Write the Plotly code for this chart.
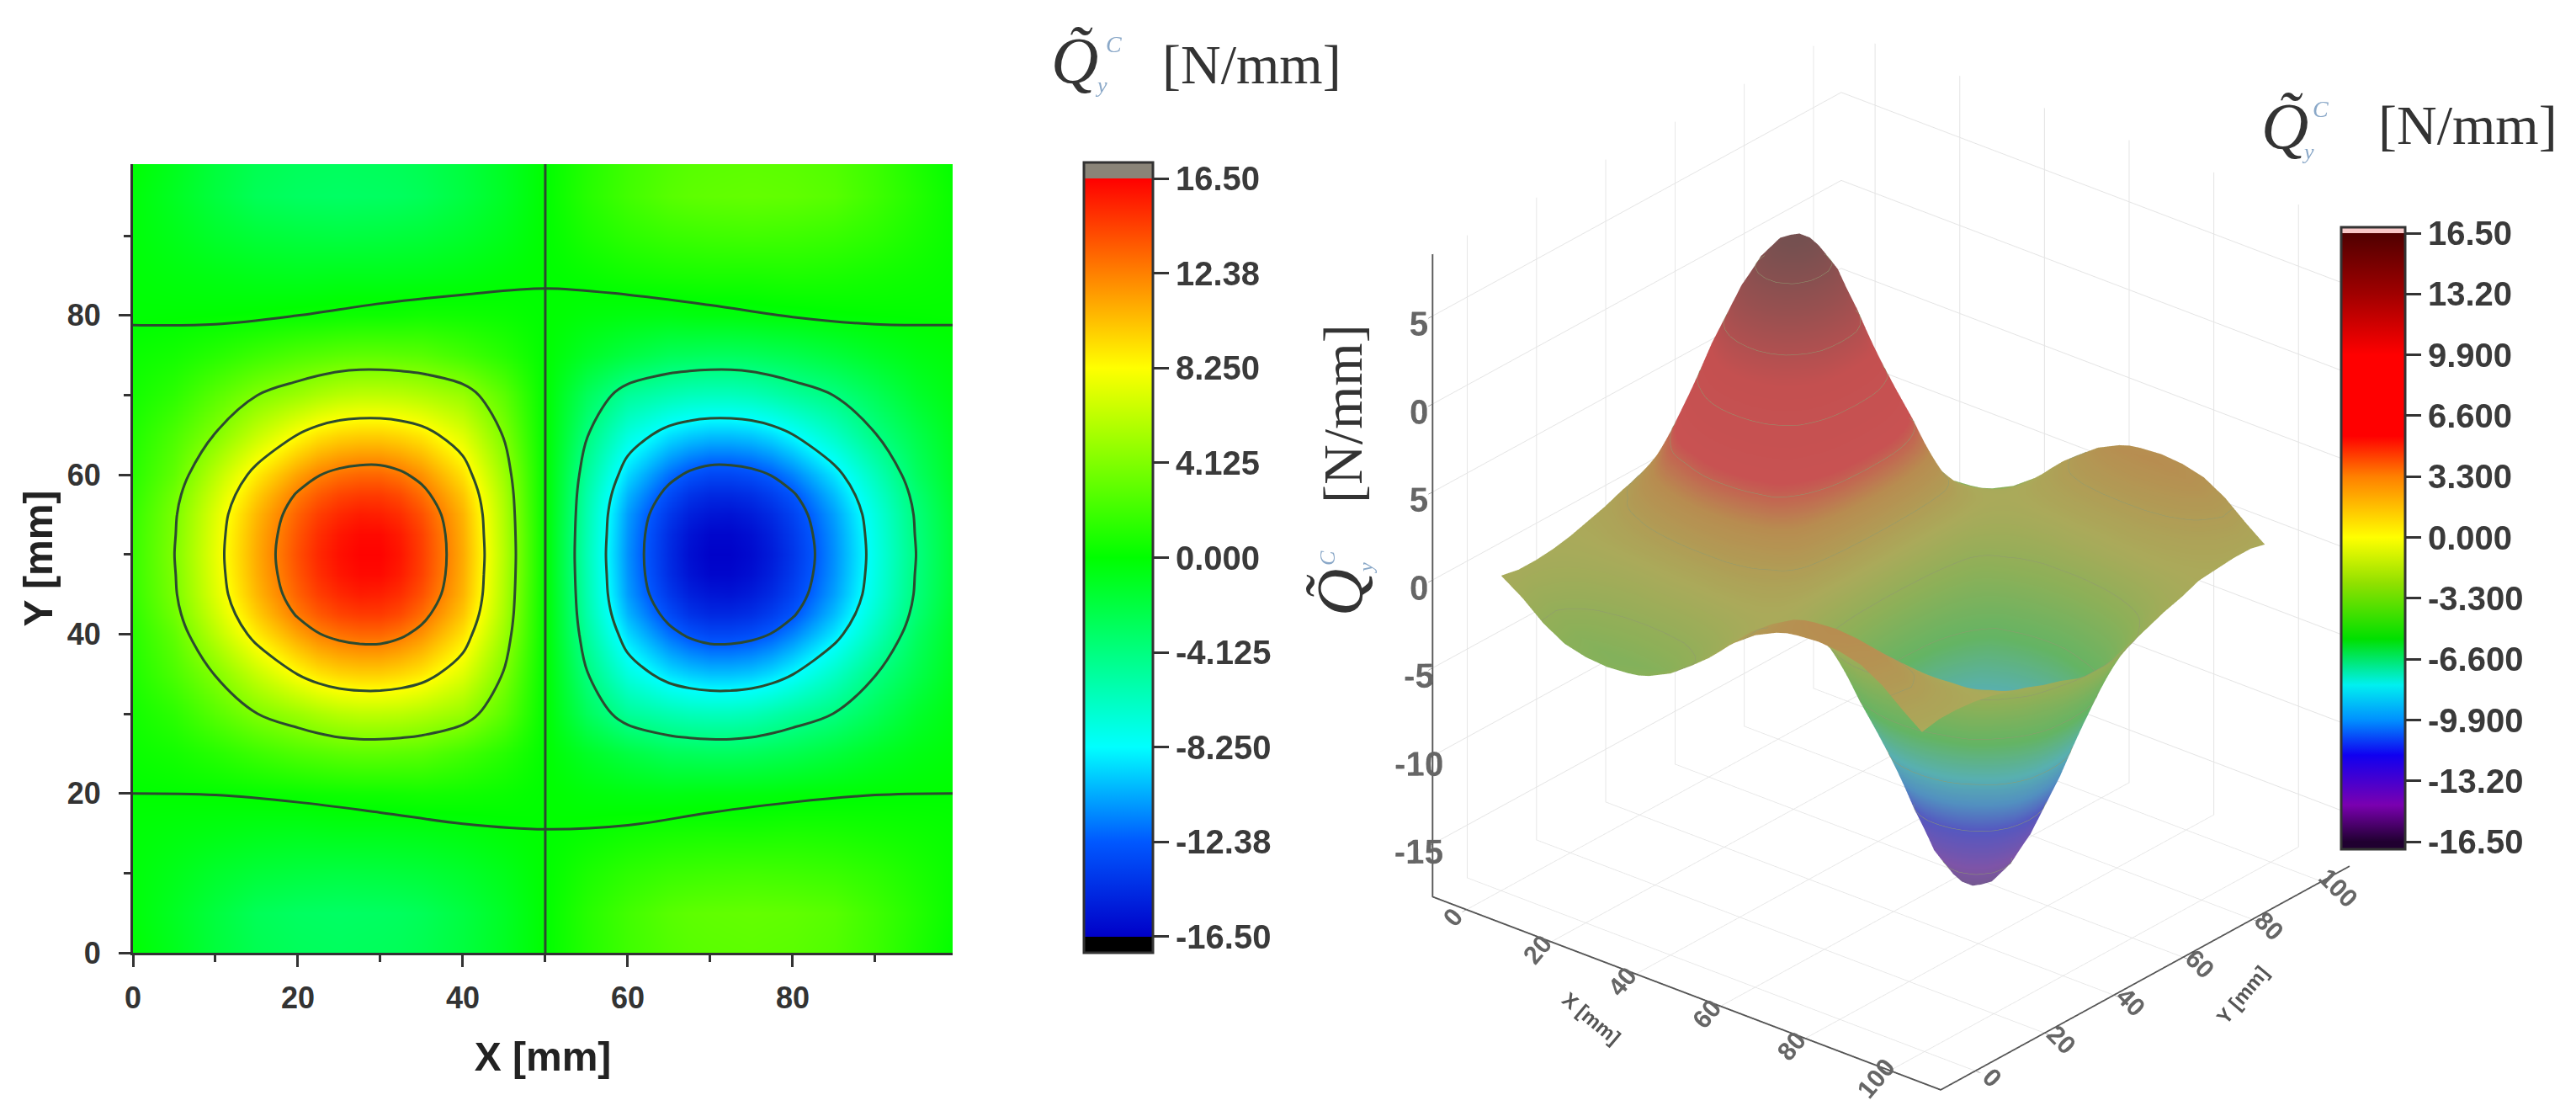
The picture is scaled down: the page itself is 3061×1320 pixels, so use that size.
import plotly.graph_objects as go

W, H = 3061, 1320
PAGE = 8  # the page adds this many pixels above and to the left of the figure

x_mm = [0, 5, 10, 15, 20, 22.5, 25, 27.5, 30, 32.5, 35, 40, 45, 48, 50, 52, 55, 60, 65, 67.5, 70, 72.5, 75, 77.5, 80, 85, 90, 95, 99.4]
y_mm = [0, 5, 10, 15, 20, 25, 30, 35, 40, 42.5, 45, 47.5, 50, 52.5, 55, 57.5, 60, 65, 70, 75, 80, 85, 90, 95, 99]

q_values = [
    [-0.1, -0.9, -1.9, -2.6, -2.9, -2.95, -3.0, -2.95, -2.9, -2.8, -2.6, -2.0, -1.1, -0.45, 0, 0.45, 1.1, 2.0, 2.6, 2.8, 2.9, 2.95, 3.0, 2.95, 2.9, 2.6, 1.9, 0.9, 0.1],
    [-0.3, -1.1, -2.0, -2.8, -3.1, -3.15, -3.2, -3.15, -3.1, -3.0, -2.8, -2.1, -1.2, -0.5, 0, 0.5, 1.2, 2.1, 2.8, 3.0, 3.1, 3.15, 3.2, 3.15, 3.1, 2.8, 2.0, 1.1, 0.3],
    [-0.3, -0.8, -1.4, -1.8, -2.0, -2.05, -2.1, -2.05, -2.0, -1.9, -1.8, -1.4, -0.8, -0.3, 0, 0.3, 0.8, 1.4, 1.8, 1.9, 2.0, 2.05, 2.1, 2.05, 2.0, 1.8, 1.4, 0.8, 0.3],
    [-0.2, -0.4, -0.6, -0.8, -0.9, -0.85, -0.8, -0.8, -0.8, -0.75, -0.7, -0.5, -0.2, -0.05, 0, 0.05, 0.2, 0.5, 0.7, 0.75, 0.8, 0.8, 0.8, 0.85, 0.9, 0.8, 0.6, 0.4, 0.2],
    [0.0, 0.05, 0.1, 0.2, 0.3, 0.4, 0.45, 0.5, 0.5, 0.55, 0.6, 0.5, 0.3, 0.1, 0, -0.1, -0.3, -0.5, -0.6, -0.55, -0.5, -0.5, -0.45, -0.4, -0.3, -0.2, -0.1, -0.05, 0.0],
    [0.3, 0.6, 1.2, 1.9, 2.5, 2.7, 2.9, 3.0, 3.0, 2.9, 2.8, 2.1, 1.2, 0.5, 0, -0.5, -1.2, -2.1, -2.8, -2.9, -3.0, -3.0, -2.9, -2.7, -2.5, -1.9, -1.2, -0.6, -0.3],
    [0.6, 1.4, 2.8, 4.1, 5.0, 5.5, 5.9, 6.1, 6.1, 6.0, 5.7, 4.9, 2.9, 1.2, 0, -1.2, -2.9, -4.9, -5.7, -6.0, -6.1, -6.1, -5.9, -5.5, -5.0, -4.1, -2.8, -1.4, -0.6],
    [1.0, 2.4, 4.2, 6.4, 8.3, 9.1, 9.6, 9.8, 9.8, 9.5, 9.0, 7.2, 4.0, 1.6, 0, -1.6, -4.0, -7.2, -9.0, -9.5, -9.8, -9.8, -9.6, -9.1, -8.3, -6.4, -4.2, -2.4, -1.0],
    [1.3, 3.1, 6.0, 8.9, 11.3, 12.3, 12.9, 13.2, 13.2, 12.7, 11.8, 9.2, 5.0, 2.0, 0, -2.0, -5.0, -9.2, -11.8, -12.7, -13.2, -13.2, -12.9, -12.3, -11.3, -8.9, -6.0, -3.1, -1.3],
    [1.5, 3.6, 6.7, 9.9, 12.6, 13.6, 14.3, 14.6, 14.6, 14.1, 13.0, 10.1, 5.4, 2.1, 0, -2.1, -5.4, -10.1, -13.0, -14.1, -14.6, -14.6, -14.3, -13.6, -12.6, -9.9, -6.7, -3.6, -1.5],
    [1.7, 3.9, 7.2, 10.6, 13.4, 14.5, 15.2, 15.6, 15.5, 15.0, 13.9, 10.7, 5.6, 2.2, 0, -2.2, -5.6, -10.7, -13.9, -15.0, -15.5, -15.6, -15.2, -14.5, -13.4, -10.6, -7.2, -3.9, -1.7],
    [1.8, 4.0, 7.4, 10.9, 13.8, 15.0, 15.8, 16.2, 16.2, 15.6, 14.4, 10.9, 5.7, 2.3, 0, -2.3, -5.7, -10.9, -14.4, -15.6, -16.2, -16.2, -15.8, -15.0, -13.8, -10.9, -7.4, -4.0, -1.8],
    [1.8, 4.1, 7.5, 11.0, 14.0, 15.2, 16.0, 16.4, 16.4, 15.8, 14.5, 11.0, 5.8, 2.3, 0, -2.3, -5.8, -11.0, -14.5, -15.8, -16.4, -16.4, -16.0, -15.2, -14.0, -11.0, -7.5, -4.1, -1.8],
    [1.8, 4.0, 7.4, 10.9, 13.8, 15.0, 15.8, 16.2, 16.2, 15.6, 14.4, 10.9, 5.7, 2.3, 0, -2.3, -5.7, -10.9, -14.4, -15.6, -16.2, -16.2, -15.8, -15.0, -13.8, -10.9, -7.4, -4.0, -1.8],
    [1.7, 3.9, 7.2, 10.6, 13.4, 14.5, 15.2, 15.6, 15.5, 15.0, 13.9, 10.7, 5.6, 2.2, 0, -2.2, -5.6, -10.7, -13.9, -15.0, -15.5, -15.6, -15.2, -14.5, -13.4, -10.6, -7.2, -3.9, -1.7],
    [1.5, 3.6, 6.7, 9.9, 12.6, 13.6, 14.3, 14.6, 14.6, 14.1, 13.0, 10.1, 5.4, 2.1, 0, -2.1, -5.4, -10.1, -13.0, -14.1, -14.6, -14.6, -14.3, -13.6, -12.6, -9.9, -6.7, -3.6, -1.5],
    [1.3, 3.1, 6.0, 8.9, 11.3, 12.3, 12.9, 13.2, 13.2, 12.7, 11.8, 9.2, 5.0, 2.0, 0, -2.0, -5.0, -9.2, -11.8, -12.7, -13.2, -13.2, -12.9, -12.3, -11.3, -8.9, -6.0, -3.1, -1.3],
    [1.0, 2.4, 4.2, 6.4, 8.3, 9.1, 9.6, 9.8, 9.8, 9.5, 9.0, 7.2, 4.0, 1.6, 0, -1.6, -4.0, -7.2, -9.0, -9.5, -9.8, -9.8, -9.6, -9.1, -8.3, -6.4, -4.2, -2.4, -1.0],
    [0.6, 1.4, 2.8, 4.1, 5.0, 5.5, 5.9, 6.1, 6.1, 6.0, 5.7, 4.9, 2.9, 1.2, 0, -1.2, -2.9, -4.9, -5.7, -6.0, -6.1, -6.1, -5.9, -5.5, -5.0, -4.1, -2.8, -1.4, -0.6],
    [0.3, 0.6, 1.2, 1.9, 2.5, 2.7, 2.9, 3.0, 3.0, 2.9, 2.8, 2.1, 1.2, 0.5, 0, -0.5, -1.2, -2.1, -2.8, -2.9, -3.0, -3.0, -2.9, -2.7, -2.5, -1.9, -1.2, -0.6, -0.3],
    [-0.1, -0.05, 0.0, 0.1, 0.25, 0.3, 0.4, 0.45, 0.45, 0.5, 0.6, 0.5, 0.3, 0.1, 0, -0.1, -0.3, -0.5, -0.6, -0.5, -0.45, -0.45, -0.4, -0.3, -0.25, -0.1, 0.0, 0.05, 0.1],
    [-0.2, -0.4, -0.6, -0.8, -0.9, -0.85, -0.8, -0.8, -0.8, -0.75, -0.7, -0.5, -0.2, -0.05, 0, 0.05, 0.2, 0.5, 0.7, 0.75, 0.8, 0.8, 0.8, 0.85, 0.9, 0.8, 0.6, 0.4, 0.2],
    [-0.3, -0.8, -1.4, -1.8, -2.0, -2.05, -2.1, -2.05, -2.0, -1.9, -1.8, -1.4, -0.8, -0.3, 0, 0.3, 0.8, 1.4, 1.8, 1.9, 2.0, 2.05, 2.1, 2.05, 2.0, 1.8, 1.4, 0.8, 0.3],
    [-0.3, -1.1, -2.0, -2.8, -3.1, -3.15, -3.2, -3.15, -3.1, -3.0, -2.8, -2.1, -1.2, -0.5, 0, 0.5, 1.2, 2.1, 2.8, 3.0, 3.1, 3.15, 3.2, 3.15, 3.1, 2.8, 2.0, 1.1, 0.3],
    [-0.1, -0.9, -1.9, -2.6, -2.9, -2.95, -3.0, -2.95, -2.9, -2.8, -2.6, -2.0, -1.1, -0.45, 0, 0.45, 1.1, 2.0, 2.6, 2.8, 2.9, 2.95, 3.0, 2.95, 2.9, 2.6, 1.9, 0.9, 0.1],
]

# zero-level lines
zero_x = [0, 10, 20, 30, 40, 50, 60, 70, 80, 90, 99.4]
zero_top_y = [78.8, 78.9, 80.0, 81.5, 82.6, 83.4, 82.6, 81.3, 79.8, 78.9, 78.8]
zero_bottom_y = [20.0, 19.8, 18.9, 17.6, 16.2, 15.5, 16.0, 17.6, 18.9, 19.8, 20.0]
zero_mid_x = [50, 50]
zero_mid_y = [0, 99]

map_ticks = [16.5, 12.375, 8.25, 4.125, 0, -4.125, -8.25, -12.375, -16.5]
map_labels = ["16.50", "12.38", "8.250", "4.125", "0.000", "-4.125", "-8.250", "-12.38", "-16.50"]
surf_ticks = [16.5, 13.2, 9.9, 6.6, 3.3, 0, -3.3, -6.6, -9.9, -13.2, -16.5]
surf_labels = ["16.50", "13.20", "9.900", "6.600", "3.300", "0.000", "-3.300", "-6.600", "-9.900", "-13.20", "-16.50"]
z_ticks = [-15, -10, -5, 0, 5, 10, 15]
z_labels = ["-15", "-10", "-5", "0", "5", "0", "5"]
xy_ticks = [0, 20, 40, 60, 80, 100]

map_lim = 17.2
map_stops = [(-17.2, "#000000"), (-16.5, "#000000"), (-16.5, "#0000c8"), (-12.375, "#0058ff"),
             (-8.25, "#00ffff"), (-4.125, "#00ff80"), (0, "#00ff00"), (4.125, "#80ff00"),
             (8.25, "#ffff00"), (12.375, "#ff8000"), (16.5, "#ff0000"), (16.5, "#8a8478"), (17.2, "#8a8478")]
surf_min, surf_max = -16.9, 16.82
bar_stops = [(-16.9, "#200030"), (-16.5, "#200030"), (-14.5, "#7a00b0"), (-11.8, "#1000f0"), (-9.9, "#0090ff"),
             (-8.0, "#00f0f0"), (-5.5, "#00e000"), (-2.5, "#90e000"), (0, "#ffff00"),
             (3.3, "#ff8000"), (5.5, "#ff0000"), (9.9, "#ff0000"), (13.2, "#a00000"),
             (16.5, "#500000"), (16.5, "#f8c8c8"), (16.82, "#f8c8c8")]
# the surface shows the same bands, seen through a grey veil
surf_stops = [(-16.9, "#6f5a86"), (-14.5, "#7e54a8"), (-11.8, "#5558c0"), (-9.9, "#5290c0"),
              (-8.0, "#58b0b0"), (-5.5, "#64b464"), (-2.5, "#8cb058"), (0, "#aaaa5a"),
              (3.3, "#b88c50"), (5.5, "#c85252"), (9.9, "#c45050"), (13.2, "#9a5050"), (16.82, "#705050")]


def scale(stops, lo, hi):
    return [[(v - lo) / (hi - lo), c] for v, c in stops]


def fx(px):
    return (px - PAGE) / W


def fy(py):
    return 1 - (py - PAGE) / H


axis_font = dict(family="Liberation Sans", size=36, color="#333333", weight="bold")
bar_font = dict(family="Liberation Sans", size=40, color="#3a3a3a", weight="bold")
bar_common = dict(lenmode="pixels", thicknessmode="pixels", xanchor="left", yanchor="top",
                  xpad=0, ypad=0, outlinecolor="#333333", outlinewidth=3, ticks="outside",
                  ticklen=18, tickwidth=3, tickcolor="#333333", tickfont=bar_font, tickmode="array")

fig = go.Figure()
fig.add_trace(go.Heatmap(
    x=x_mm, y=y_mm, z=q_values, zsmooth="best", zmin=-map_lim, zmax=map_lim,
    colorscale=scale(map_stops, -map_lim, map_lim),
    colorbar=dict(x=fx(1288), y=fy(193), len=939, thickness=82,
                  tickvals=map_ticks, ticktext=map_labels, **bar_common),
))
line_style = dict(color="#2c4a30", width=3, smoothing=1.0)
for lo, hi in [(4.125, 12.375), (-12.375, -4.125)]:
    fig.add_trace(go.Contour(
        x=x_mm, y=y_mm, z=q_values, showscale=False, hoverinfo="skip",
        contours=dict(coloring="none", start=lo, end=hi, size=4.125), line=line_style,
    ))
for lx, ly, shape in [(zero_x, zero_top_y, "spline"), (zero_x, zero_bottom_y, "spline"), (zero_mid_x, zero_mid_y, "linear")]:
    fig.add_trace(go.Scatter(x=lx, y=ly, mode="lines", hoverinfo="skip", cliponaxis=True,
                             line=dict(color="#2c4a30", width=3, shape=shape)))
fig.add_trace(go.Surface(
    x=x_mm, y=y_mm, z=q_values, cmin=surf_min, cmax=surf_max, showscale=False,
    colorscale=scale(surf_stops, surf_min, surf_max),
    lighting=dict(ambient=1.0, diffuse=0.0, specular=0.0, roughness=1.0),
    contours=dict(z=dict(show=True, start=-15, end=15, size=3.3, color="#8f9a70", width=1)),
    hoverinfo="skip",
))
# holder of the second colour bar: its single point lies outside the map's range
fig.add_trace(go.Scatter(
    x=[50], y=[-100], mode="markers", hoverinfo="skip",
    marker=dict(color=[0], cmin=surf_min, cmax=surf_max, colorscale=scale(bar_stops, surf_min, surf_max),
                showscale=True,
                colorbar=dict(x=fx(2782), y=fy(270), len=739, thickness=76,
                              tickvals=surf_ticks, ticktext=surf_labels, **bar_common)),
))

axis_3d = dict(showbackground=False, gridcolor="#e4e4e4", gridwidth=2, showline=True, linecolor="#555555",
               linewidth=4, ticks="outside", ticklen=8, tickcolor="#555555", zeroline=False,
               showspikes=False)
label_3d = dict(family="Liberation Sans", size=19, color="#666666", weight="bold")

fig.update_layout(
    width=W, height=H, margin=dict(l=0, r=0, t=0, b=0, autoexpand=False), paper_bgcolor="white", plot_bgcolor="white",
    showlegend=False, font=dict(family="Liberation Sans"),
    xaxis=dict(domain=[fx(158), fx(1132)], range=[0, 99.4], tickvals=[0, 20, 40, 60, 80], ticks="outside",
               ticklen=14, tickwidth=3, tickcolor="#333333", showline=True, linecolor="#333333", linewidth=3,
               showgrid=False, zeroline=False, tickfont=axis_font, ticklabelstandoff=6,
               minor=dict(tickvals=[10, 30, 50, 70, 90], ticks="outside", ticklen=8, tickwidth=3, tickcolor="#333333"),
               title=dict(text="<b>X [mm]</b>", standoff=34, font=dict(size=48, color="#222222"))),
    yaxis=dict(domain=[fy(1132), fy(195)], range=[0, 99], tickvals=[0, 20, 40, 60, 80], ticks="outside",
               ticklen=14, tickwidth=3, tickcolor="#333333", showline=True, linecolor="#333333", linewidth=3,
               showgrid=False, zeroline=False, tickfont=axis_font, ticklabelstandoff=14,
               minor=dict(tickvals=[10, 30, 50, 70, 90], ticks="outside", ticklen=8, tickwidth=3, tickcolor="#333333"),
               title=dict(text="<b>Y [mm]</b>", standoff=2, font=dict(size=48, color="#222222"))),
    scene=dict(
        domain=dict(x=[fx(1652), fx(2842)], y=[fy(1320), fy(40)]),
        aspectmode="manual", aspectratio=dict(x=1.228, y=1.185, z=1.34),
        camera=dict(eye=dict(x=1.146, y=-1.375, z=0.892), center=dict(x=0, y=0, z=-0.025),
                    up=dict(x=0, y=0, z=1), projection=dict(type="orthographic")),
        xaxis=dict(range=[-8, 112], tickvals=xy_ticks, tickfont=label_3d, tickangle=-50,
                   title=dict(text=""), **axis_3d),
        yaxis=dict(range=[-10, 108], tickvals=xy_ticks, tickfont=label_3d, tickangle=45,
                   title=dict(text=""), **axis_3d),
        zaxis=dict(range=[-18, 18.5], tickvals=z_ticks, ticktext=z_labels, tickangle=0,
                   tickfont=dict(family="Liberation Sans", size=22, color="#666666", weight="bold"),
                   title=dict(text=""), **axis_3d),
    ),
)

serif = "Liberation Serif"


def note(px, py, text, size, color="#333333", angle=0, family=serif):
    fig.add_annotation(x=fx(px), y=fy(py), xref="paper", yref="paper", xanchor="center", yanchor="middle",
                       text=text, showarrow=False, font=dict(family=family, size=size, color=color), textangle=angle)


pale = "#8aa8c8"
for qx, qy, cx, cy, sx, sy, ux, uy in [(1277, 72, 1323, 53, 1308, 102, 1487, 77),
                                       (2715, 150, 2757, 130, 2742, 180, 2932, 148)]:
    note(qx, qy, "<i>Q\u0303</i>", 78)
    note(cx, cy, "<i>C</i>", 28, pale)
    note(sx, sy, "<i>y</i>", 26, pale)
    note(ux, uy, "[N/mm]", 66)

note(1595, 492, "[N/mm]", 66, angle=-90)
note(1592, 704, "<i>Q\u0303</i>", 78, angle=-90)
note(1577, 663, "<i>C</i>", 26, pale, angle=-90)
note(1623, 675, "<i>y</i>", 24, pale, angle=-90)

note(1891, 1209, "<b>X [mm]</b>", 24, "#555555", angle=40, family="Liberation Sans")
note(2664, 1182, "<b>Y [mm]</b>", 24, "#555555", angle=-50, family="Liberation Sans")

fig.write_html("out.html")
